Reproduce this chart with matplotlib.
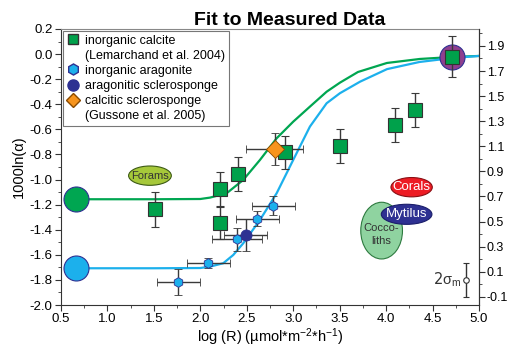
import matplotlib
matplotlib.use("Agg")
from matplotlib import pyplot as plt
from matplotlib.lines import Line2D
from matplotlib.patches import Ellipse
from matplotlib.ticker import MultipleLocator

plt.rcParams['font.family'] = ['Liberation Sans', 'DejaVu Sans']
plt.rcParams['mathtext.fontset'] = 'custom'
plt.rcParams['mathtext.rm'] = 'Liberation Sans'
plt.rcParams['mathtext.it'] = 'Liberation Sans:italic'

# --- data ---
# inorganic calcite (green squares)
calc_x = [1.51, 2.21, 2.21, 2.41, 2.91, 3.50, 4.10, 4.31, 4.71]
calc_y = [-1.237, -1.075, -1.346, -0.955, -0.784, -0.730, -0.565, -0.445, -0.021]
calc_yerr = [0.14, 0.135, 0.13, 0.135, 0.13, 0.135, 0.135, 0.133, 0.165]

# inorganic aragonite (blue hexagons)
arag_x = [1.763, 2.086, 2.391, 2.613, 2.785]
arag_y = [-1.818, -1.662, -1.476, -1.312, -1.210]
arag_xerr = [0.23, 0.23, 0.27, 0.23, 0.23]
arag_yerr = [0.105, 0.04, 0.09, 0.06, 0.075]

# aragonitic sclerosponge (dark blue circle)
asp_x = [2.49]
asp_y = [-1.441]
asp_xerr = [0.23]
asp_yerr = [0.13]

# calcitic sclerosponge (orange diamond)
csp_x = [2.80]
csp_y = [-0.756]
csp_xerr = [0.31]
csp_yerr = [0.13]

# fitted curves
green_x = [0.66, 1.5, 2.0, 2.104, 2.284, 2.462, 2.642, 2.822, 3.0, 3.18, 3.36,
           3.503, 3.697, 4.009, 4.364, 4.72, 5.0]
green_y = [-1.157, -1.157, -1.155, -1.144, -1.109, -1.003, -0.844, -0.671, -0.539,
           -0.419, -0.300, -0.228, -0.143, -0.071, -0.039, -0.023, -0.015]
blue_x = [0.66, 1.5, 2.0, 2.104, 2.247, 2.355, 2.462, 2.642, 2.822, 3.0, 3.18,
          3.36, 3.503, 3.72, 4.01, 4.36, 4.72, 5.0]
blue_y = [-1.707, -1.707, -1.705, -1.694, -1.667, -1.601, -1.508, -1.322, -1.109,
          -0.844, -0.578, -0.392, -0.312, -0.220, -0.120, -0.063, -0.031, -0.015]

# big end-member circles
end_x = [0.66, 0.66, 4.706]
end_y = [-1.157, -1.707, -0.023]
end_colors = ['#00a651', '#1cb0ec', '#8e3f8f']

# labelled fields
field_names = ['Forams', 'Coccoliths', 'Mytilus', 'Corals']
field_text = ['Forams', 'Cocco-\nliths', 'Mytilus', 'Corals']
field_x = [1.458, 3.952, 4.221, 4.275]
field_y = [-0.969, -1.407, -1.277, -1.061]
field_w = [0.46, 0.449, 0.545, 0.445]
field_h = [0.154, 0.452, 0.16, 0.154]

# 2 sigma marker
sig_x = 4.859
sig_y = -1.80
sig_err = 0.135

right_offset = 1.835

fig = plt.figure(figsize=(5.09, 3.49), dpi=100)
ax = fig.add_axes([0.1198, 0.126, 0.8212, 0.791])

ebkw = dict(ecolor='#3a3a3a', elinewidth=1, capsize=3, capthick=1, linestyle='none', zorder=4)

ax.plot(green_x, green_y, color='#00a651', lw=1.6, zorder=2)
ax.plot(blue_x, blue_y, color='#1cb0ec', lw=1.6, zorder=2)

for x, y, c in zip(end_x, end_y, end_colors):
    ax.plot(x, y, 'o', ms=18, mfc=c, mec='#2e3192', mew=0.8, zorder=3)

# fields
fcols = ['#a6c83a', '#8fd3a0', '#2e3192', '#ed1c24']
ecols = ['#3c5a14', '#2d7a3f', '#1a1d6a', '#8a0f14']
tcols = ['#333333', '#333333', 'white', 'white']
for i in range(len(field_names)):
    e = Ellipse((field_x[i], field_y[i]), field_w[i], field_h[i], facecolor=fcols[i],
                edgecolor=ecols[i], lw=0.8, zorder=1.5)
    ax.add_patch(e)
    fs = 8 if i < 2 else 9.5
    ax.text(field_x[i], field_y[i] - (0.03 if i == 1 else 0), field_text[i], ha='center',
            va='center', fontsize=fs, color=tcols[i], zorder=1.6, linespacing=1.3)

ax.errorbar(arag_x, arag_y, xerr=arag_xerr, yerr=arag_yerr, fmt='h', ms=7,
            mfc='#1cb0ec', mec='#2e3192', mew=0.6, **ebkw)
ax.errorbar(asp_x, asp_y, xerr=asp_xerr, yerr=asp_yerr, fmt='o', ms=8,
            mfc='#2e3192', mec='#2e3192', mew=0.6, **ebkw)
ax.errorbar(calc_x, calc_y, yerr=calc_yerr, fmt='s', ms=10,
            mfc='#00a14b', mec='#333333', mew=0.8, **ebkw)
ax.errorbar(csp_x, csp_y, xerr=csp_xerr, yerr=csp_yerr, fmt='D', ms=9,
            mfc='#f7941d', mec='#8a4a00', mew=0.6, **ebkw)

ax.errorbar([sig_x], [sig_y], yerr=[sig_err], fmt='o', ms=4, mfc='white', mec='#333333',
            mew=0.8, ecolor='#333333', elinewidth=1, capsize=2)
ax.text(sig_x - 0.05, sig_y, r'2$\mathrm{\sigma_{m}}$', ha='right', va='center', fontsize=10.5,
        color='#333333', family=['DejaVu Sans'])

ax.set_xlim(0.5, 5.0)
ax.set_ylim(-2.0, 0.2)
ax.xaxis.set_major_locator(MultipleLocator(0.5))
ax.xaxis.set_minor_locator(MultipleLocator(0.25))
ax.yaxis.set_major_locator(MultipleLocator(0.2))
ax.yaxis.set_minor_locator(MultipleLocator(0.1))
ax.tick_params(which='both', direction='out', labelsize=9.5, color='#333333', pad=2)
ax.tick_params(which='major', length=4)
ax.tick_params(which='minor', length=2.5)
ax.set_xticklabels([f'{v:.1f}' for v in ax.get_xticks()])
ax.set_yticks([round(-2.0 + 0.2 * i, 1) for i in range(12)])
ax.set_yticklabels([f'{-2.0 + 0.2 * i:.1f}' for i in range(12)])
for s in ax.spines.values():
    s.set_color('#333333')
ax.spines['top'].set_color('#888888')

ax.set_xlabel(r'log (R) (µmol*m$^{\mathregular{-2}}$*h$^{\mathregular{-1}}$)', fontsize=10.5, labelpad=1)
ax.set_ylabel('1000ln(α)', fontsize=10.5, labelpad=3)
ax.set_title('Fit to Measured Data', fontsize=14, fontweight='bold', pad=3, x=0.548)

ax2 = ax.twinx()
ax2.set_ylim(-2.0 + right_offset, 0.2 + right_offset)
ax2.set_yticks([round(-0.1 + 0.2 * i, 1) for i in range(11)])
ax2.set_yticklabels([f'{-0.1 + 0.2 * i:.1f}' for i in range(11)])
ax2.yaxis.set_minor_locator(MultipleLocator(0.1))
ax2.tick_params(which='both', direction='out', labelsize=9, color='#333333', pad=1.5)
ax2.tick_params(which='major', length=4)
ax2.tick_params(which='minor', length=2.5)
for s in ax2.spines.values():
    s.set_visible(False)
ax2.spines['right'].set_visible(True)
ax2.spines['right'].set_color('#333333')

blank = Line2D([], [], linestyle='none')
handles = [
    Line2D([], [], marker='s', ms=7, mfc='#00a14b', mec='#333333', linestyle='none'),
    blank,
    Line2D([], [], marker='h', ms=8, mfc='#1cb0ec', mec='#2e3192', linestyle='none'),
    Line2D([], [], marker='o', ms=8, mfc='#2e3192', mec='#2e3192', linestyle='none'),
    Line2D([], [], marker='D', ms=7.5, mfc='#f7941d', mec='#8a4a00', linestyle='none'),
    blank,
]
labels = ['inorganic calcite', '(Lemarchand et al. 2004)', 'inorganic aragonite',
          'aragonitic sclerosponge', 'calcitic sclerosponge', '(Gussone et al. 2005)']
leg = ax.legend(handles, labels, loc='upper left', fontsize=9, frameon=True, fancybox=False,
                borderaxespad=0.15, handlelength=1.0, handletextpad=0.5, labelspacing=0.25,
                borderpad=0.3)
leg.get_frame().set_edgecolor('#555555')
leg.get_frame().set_linewidth(0.8)
leg.set_zorder(10)

fig.savefig('out.png', dpi=100)
